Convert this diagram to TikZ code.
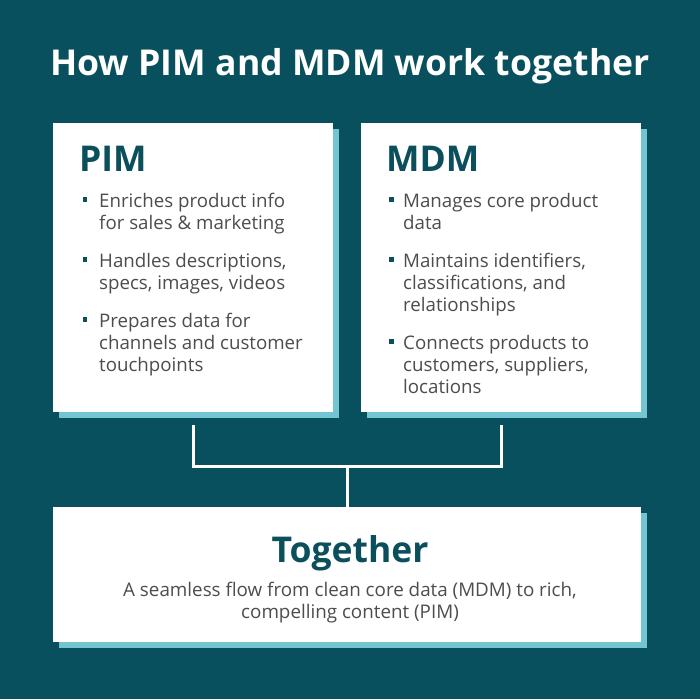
\documentclass[tikz,border=0pt]{standalone}
\usepackage{fontspec}
\setmainfont{Open Sans}
\usetikzlibrary{shadows}
\definecolor{bgc}{HTML}{08505E}
\definecolor{headc}{HTML}{0B4F5C}
\definecolor{txtc}{HTML}{4D4D4D}
\definecolor{shadc}{HTML}{72C5D1}
\tikzset{
  card/.style={fill=white, draw=none, anchor=north west, inner sep=0pt,
    drop shadow={shadow xshift=6pt, shadow yshift=-6pt, fill=shadc, opacity=1}},
  heading/.style={anchor=base west, inner sep=0pt, text=headc, font=\fontsize{35.5}{40}\selectfont\bfseries},
  item/.style={anchor=base west, inner sep=0pt, text=txtc, font=\fontsize{18.7}{22}\selectfont},
  sq/.style={fill=headc, draw=none, minimum size=4.5pt, inner sep=0pt},
  link/.style={draw=white, line width=3pt}
}
\newcommand{\lines}[1]{\begin{tabular}[t]{@{}l@{}}#1\end{tabular}}
\newcommand{\clines}[1]{\begin{tabular}[t]{@{}c@{}}#1\end{tabular}}
\begin{document}
\begin{tikzpicture}[x=1pt,y=-1pt]
\fill[bgc] (0,0) rectangle (700,699);
\useasboundingbox (0,0) rectangle (700,699);
\node[anchor=base, inner sep=0pt, text=white, font=\fontsize{35.6}{40}\selectfont\bfseries] (title) at (350,75) {How PIM and MDM work together};

% cards
\node[card, minimum width=280pt, minimum height=289pt] (pim) at (53,123) {};
\node[card, minimum width=280pt, minimum height=289pt] (mdm) at (361,123) {};
\node[card, minimum width=588pt, minimum height=135pt] (tog) at (53,507) {};

% PIM
\node[heading] (pimh) at (79,171) {PIM};
\node[sq] (pb1) at (85,199.5) {};
\node[sq] (pb2) at (85,259.5) {};
\node[sq] (pb3) at (85,319.5) {};
\node[item] (pt1) at (99,207) {\lines{Enriches product info\\for sales \& marketing}};
\node[item] (pt2) at (99,267) {\lines{Handles descriptions,\\specs, images, videos}};
\node[item] (pt3) at (99,327) {\lines{Prepares data for\\channels and customer\\touchpoints}};

% MDM
\node[heading] (mdmh) at (386,171) {MDM};
\node[sq] (mb1) at (391.5,199.5) {};
\node[sq] (mb2) at (391.5,259.5) {};
\node[sq] (mb3) at (391.5,341.5) {};
\node[item] (mt1) at (403,207) {\lines{Manages core product\\data}};
\node[item] (mt2) at (403,267) {\lines{Maintains identifiers,\\classifications, and\\relationships}};
\node[item] (mt3) at (403,349) {\lines{Connects products to\\customers, suppliers,\\locations}};

% Together
\node[anchor=base, inner sep=0pt, text=headc, font=\fontsize{35.5}{40}\selectfont\bfseries] (togh) at (350,562) {Together};
\node[anchor=base, inner sep=0pt, text=txtc, font=\fontsize{18.8}{22}\selectfont] (togt) at (350,596) {\clines{A seamless flow from clean core data (MDM) to rich,\\compelling content (PIM)}};

% connectors
\coordinate (jl) at (193,466);
\coordinate (jr) at (501,466);
\coordinate (jm) at (347,466);
\draw[link] (pim.south west -| jl) ++(0,13) -- (jl) -- (jr) -- ++(0,-41);
\draw[link] (jm) -- (tog.north -| jm);
\end{tikzpicture}
\end{document}
